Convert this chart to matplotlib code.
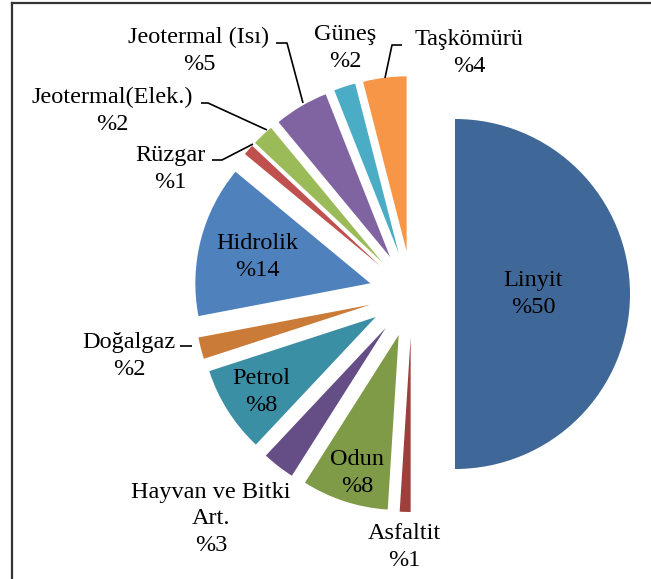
import matplotlib
matplotlib.use("Agg")
import matplotlib.pyplot as plt
from matplotlib.lines import Line2D

# ---- data ----
categories = ["Linyit", "Asfaltit", "Odun", "Hayvan ve Bitki\nArt.", "Petrol", "Doğalgaz",
              "Hidrolik", "Rüzgar", "Jeotermal(Elek.)", "Jeotermal (Isı)", "Güneş", "Taşkömürü"]
values = [50, 1, 8, 3, 8, 2, 14, 1, 2, 5, 2, 4]
colors = ["#3F6797", "#9E3F3C", "#7F9B48", "#654E86", "#3B8FA5", "#CB7B38",
          "#4F81BD", "#C0504D", "#9BBB59", "#8064A2", "#4BACC6", "#F79646"]

# ---- layout (pixel coordinates of the reference image) ----
W, H = 651, 579
CX, CY, R = 412, 294, 175

def px(x, y):
    return ((x - CX) / R, (CY - y) / R)

label_pos = [(533, 294), (404, 547), (357, 473), (211, 519), (261, 392), (129, 356),
             (257, 257), (170, 169), (112, 111), (199, 51), (345, 48), (469, 53)]

leaders = [
    None, None, None, None, None,
    [(180, 346), (192, 346)],
    None,
    [(212, 160), (222, 160), (253, 144)],
    [(201, 103), (208, 103), (267, 130)],
    [(276, 43), (287, 43), (303, 103)],
    None,
    [(402, 45), (392, 45), (385, 78)],
]

fig = plt.figure(figsize=(W / 100, H / 100), dpi=100)
ax = fig.add_axes([0, 0, 1, 1])

ax.pie(values, colors=colors, startangle=90, counterclock=False,
       explode=[43 / R] * len(values), radius=1, center=(0, 0),
       wedgeprops=dict(linewidth=0))

ax.set_xlim(-CX / R, (W - CX) / R)
ax.set_ylim(-(H - CY) / R, CY / R)
ax.set_aspect("auto")
ax.axis("off")

for name, v, (x, y) in zip(categories, values, label_pos):
    tx, ty = px(x, y)
    ax.text(tx, ty, f"{name}\n%{v}", ha="center", va="center",
            fontsize=17.5, family="Liberation Serif", linespacing=1.32, color="black")

for seg in leaders:
    if seg:
        pts = [px(x, y) for x, y in seg]
        ax.plot([p[0] for p in pts], [p[1] for p in pts], color="black", lw=1.2,
                solid_capstyle="butt", zorder=5)

# outer frame (clipped at right and bottom in the reference)
fig.add_artist(Line2D([11.5 / W, 1], [1 - 3 / H, 1 - 3 / H], color="#333333", lw=1.6,
                      transform=fig.transFigure))
fig.add_artist(Line2D([11.5 / W, 11.5 / W], [0, 1 - 3 / H], color="#333333", lw=1.6,
                      transform=fig.transFigure))

fig.savefig("out.png", dpi=100, facecolor="white")
